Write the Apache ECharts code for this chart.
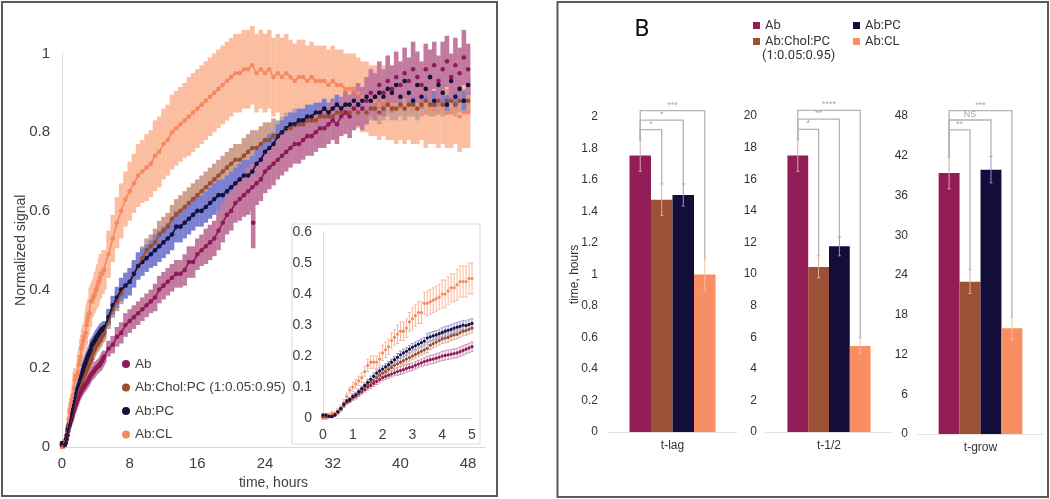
<!DOCTYPE html>
<html><head><meta charset="utf-8">
<script src="https://cdn.jsdelivr.net/npm/echarts@6/dist/echarts.min.js"></script>
<style>html,body{margin:0;padding:0;background:#fff}#c{width:1050px;height:499px}</style>
</head><body><div id="c"></div>
<script>
// ---------- data ----------
const seriesNames = ['Ab', 'Ab:Chol:PC (1:0.05:0.95)', 'Ab:PC', 'Ab:CL'];

// main panel: time (h)
const time = [0,0.5,1,1.5,2,2.5,3,3.5,4,4.5,5,5.5,6,6.5,7,7.5,8,8.5,9,9.5,10,10.5,11,11.5,12,12.5,13,13.5,14,14.5,15,15.5,16,16.5,17,17.5,18,18.5,19,19.5,20,20.5,21,21.5,22,22.5,23,23.5,24,24.5,25,25.5,26,26.5,27,27.5,28,28.5,29,29.5,30,30.5,31,31.5,32,32.5,33,33.5,34,34.5,35,35.5,36,36.5,37,37.5,38,38.5,39,39.5,40,40.5,41,41.5,42,42.5,43,43.5,44,44.5,45,45.5,46,46.5,47,47.5,48];

const abSignal = [0.00,0.01,0.07,0.10,0.13,0.15,0.17,0.19,0.20,0.22,
  0.23,0.25,0.26,0.28,0.29,0.31,0.32,0.33,0.34,0.35,
  0.36,0.37,0.38,0.40,0.41,0.42,0.43,0.44,0.44,0.45,
  0.47,0.47,0.49,0.50,0.51,0.52,0.53,0.55,0.57,0.59,
  0.60,0.62,0.63,0.64,0.65,0.66,0.67,0.68,0.70,0.71,
  0.72,0.73,0.74,0.75,0.76,0.77,0.77,0.78,0.79,0.79,
  0.80,0.81,0.81,0.82,0.83,0.82,0.84,0.85,0.84,0.86,
  0.87,0.86,0.88,0.90,0.89,0.92,0.90,0.93,0.91,0.94,
  0.92,0.95,0.93,0.96,0.94,0.92,0.96,0.94,0.97,0.93,
  0.96,0.98,0.94,0.97,0.95,0.99,0.96];
const abErr = [0.005,0.005,0.01,0.015,0.02,0.02,0.02,0.025,0.025,0.025,
  0.018,0.02,0.022,0.025,0.027,0.03,0.03,0.03,0.03,0.03,
  0.03,0.03,0.035,0.035,0.035,0.035,0.035,0.035,0.035,0.04,
  0.04,0.04,0.04,0.04,0.045,0.045,0.045,0.05,0.05,0.05,
  0.05,0.05,0.055,0.055,0.06,0.06,0.055,0.055,0.055,0.055,
  0.055,0.05,0.05,0.05,0.05,0.05,0.05,0.05,0.05,0.05,
  0.05,0.05,0.05,0.05,0.05,0.05,0.05,0.055,0.055,0.055,
  0.055,0.055,0.06,0.06,0.06,0.06,0.06,0.065,0.06,0.065,
  0.06,0.065,0.06,0.07,0.065,0.06,0.065,0.07,0.06,0.065,
  0.07,0.065,0.06,0.07,0.065,0.07,0.065];
// isolated Ab reading near 22.6 h: [time, value, error]
const abOutliers = [[22.6, 0.57, 0.065]];

const cholSignal = [0.00,0.01,0.06,0.10,0.14,0.17,0.20,0.23,0.26,0.28,
  0.29,0.32,0.35,0.37,0.39,0.41,0.42,0.44,0.46,0.48,
  0.50,0.51,0.52,0.54,0.55,0.56,0.58,0.59,0.60,0.61,
  0.62,0.63,0.64,0.65,0.66,0.67,0.68,0.69,0.70,0.71,
  0.72,0.73,0.73,0.74,0.75,0.76,0.76,0.77,0.78,0.78,
  0.79,0.79,0.80,0.81,0.81,0.82,0.82,0.82,0.83,0.83,
  0.83,0.84,0.84,0.84,0.84,0.85,0.85,0.85,0.85,0.86,
  0.85,0.86,0.85,0.86,0.86,0.85,0.86,0.87,0.86,0.86,
  0.87,0.86,0.87,0.87,0.86,0.87,0.88,0.87,0.87,0.88,
  0.87,0.88,0.88,0.87,0.88,0.88,0.88];
const cholErr = [0.005,0.005,0.01,0.015,0.02,0.02,0.025,0.025,0.025,0.025,
  0.018,0.02,0.022,0.025,0.027,0.03,0.03,0.03,0.03,0.03,
  0.03,0.03,0.035,0.035,0.035,0.035,0.035,0.04,0.04,0.04,
  0.04,0.04,0.04,0.04,0.04,0.04,0.04,0.04,0.04,0.04,
  0.04,0.04,0.04,0.045,0.045,0.045,0.045,0.045,0.045,0.045,
  0.045,0.04,0.04,0.04,0.04,0.04,0.035,0.035,0.035,0.035,
  0.035,0.035,0.035,0.03,0.03,0.03,0.03,0.03,0.03,0.03,
  0.03,0.03,0.03,0.03,0.03,0.03,0.03,0.03,0.03,0.03,
  0.03,0.03,0.03,0.03,0.03,0.03,0.03,0.03,0.03,0.03,
  0.03,0.03,0.03,0.03,0.03,0.03,0.03];

const pcSignal = [0.00,0.01,0.07,0.115,0.16,0.20,0.23,0.26,0.28,0.29,
  0.31,0.33,0.36,0.38,0.40,0.41,0.42,0.44,0.46,0.47,
  0.48,0.49,0.50,0.51,0.52,0.53,0.54,0.56,0.56,0.57,
  0.58,0.59,0.60,0.60,0.61,0.62,0.63,0.64,0.64,0.65,
  0.66,0.67,0.68,0.69,0.69,0.70,0.72,0.73,0.75,0.76,
  0.77,0.79,0.80,0.81,0.82,0.82,0.83,0.83,0.84,0.84,
  0.85,0.85,0.86,0.85,0.86,0.87,0.86,0.87,0.87,0.88,
  0.87,0.88,0.89,0.88,0.89,0.90,0.89,0.91,0.90,0.92,
  0.89,0.93,0.90,0.88,0.92,0.89,0.91,0.94,0.88,0.92,
  0.90,0.87,0.93,0.89,0.91,0.88,0.92];
const pcErr = [0.005,0.005,0.01,0.015,0.02,0.025,0.025,0.03,0.03,0.03,
  0.018,0.021,0.024,0.027,0.03,0.033,0.035,0.035,0.035,0.035,
  0.035,0.035,0.04,0.04,0.04,0.04,0.04,0.04,0.04,0.04,
  0.04,0.04,0.04,0.04,0.04,0.04,0.04,0.04,0.04,0.04,
  0.04,0.04,0.04,0.04,0.04,0.04,0.035,0.035,0.035,0.035,
  0.03,0.03,0.03,0.03,0.03,0.03,0.03,0.03,0.03,0.03,
  0.025,0.025,0.025,0.025,0.025,0.025,0.025,0.025,0.025,0.025,
  0.025,0.025,0.025,0.025,0.025,0.025,0.025,0.025,0.025,0.025,
  0.025,0.025,0.025,0.025,0.025,0.025,0.025,0.025,0.025,0.025,
  0.025,0.025,0.025,0.025,0.025,0.025,0.025];

const clSignal = [0.00,0.02,0.10,0.17,0.21,0.27,0.32,0.37,0.40,0.43,
  0.45,0.49,0.53,0.57,0.60,0.63,0.65,0.67,0.69,0.70,
  0.71,0.72,0.74,0.75,0.77,0.78,0.80,0.81,0.82,0.83,
  0.84,0.85,0.86,0.87,0.88,0.89,0.90,0.91,0.92,0.93,
  0.94,0.95,0.95,0.96,0.96,0.97,0.95,0.96,0.95,0.96,
  0.94,0.95,0.94,0.95,0.94,0.93,0.94,0.94,0.93,0.94,
  0.93,0.93,0.93,0.92,0.93,0.92,0.92,0.91,0.91,0.91,
  0.90,0.89,0.89,0.88,0.88,0.87,0.88,0.87,0.87,0.86,
  0.87,0.86,0.87,0.86,0.86,0.87,0.85,0.86,0.86,0.85,
  0.86,0.85,0.85,0.86,0.84,0.85,0.85];
const clErr = [0.005,0.01,0.02,0.025,0.03,0.035,0.04,0.045,0.05,0.05,
  0.055,0.06,0.06,0.065,0.07,0.07,0.075,0.075,0.08,0.08,
  0.085,0.085,0.09,0.09,0.09,0.09,0.095,0.095,0.095,0.095,
  0.1,0.1,0.1,0.1,0.1,0.1,0.1,0.1,0.1,0.1,
  0.1,0.1,0.1,0.1,0.1,0.1,0.1,0.1,0.1,0.1,
  0.1,0.1,0.1,0.1,0.095,0.095,0.095,0.095,0.09,0.09,
  0.09,0.09,0.09,0.09,0.09,0.09,0.09,0.09,0.09,0.09,
  0.09,0.09,0.09,0.09,0.09,0.09,0.09,0.09,0.09,0.09,
  0.09,0.09,0.09,0.09,0.09,0.09,0.09,0.09,0.09,0.09,
  0.09,0.09,0.09,0.09,0.09,0.09,0.09];

// inset: first 5 hours
const insetTime = [0,0.1,0.2,0.3,0.4,0.5,0.6,0.7,0.8,0.9,1.0,1.1,1.2,1.3,1.4,1.5,1.6,1.7,1.8,1.9,2.0,2.1,2.2,2.3,2.4,2.5,2.6,2.7,2.8,2.9,3.0,3.1,3.2,3.3,3.4,3.5,3.6,3.7,3.8,3.9,4.0,4.1,4.2,4.3,4.4,4.5,4.6,4.7,4.8,4.9,5.0];
const insetAb = [0.005,0.005,0.005,0.005,0.01,0.02,0.03,0.04,0.05,0.055,
  0.065,0.07,0.078,0.085,0.092,0.10,0.105,0.112,0.118,0.124,
  0.13,0.134,0.138,0.142,0.146,0.15,0.153,0.156,0.16,0.163,
  0.165,0.17,0.174,0.178,0.182,0.185,0.188,0.19,0.193,0.196,
  0.20,0.202,0.204,0.206,0.208,0.21,0.214,0.218,0.222,0.226,0.23];
const insetChol = [0.005,0.005,0.005,0.005,0.01,0.02,0.03,0.04,0.05,0.06,
  0.065,0.07,0.08,0.09,0.10,0.108,0.115,0.12,0.13,0.138,
  0.145,0.15,0.157,0.163,0.17,0.175,0.18,0.185,0.19,0.195,
  0.20,0.205,0.21,0.215,0.22,0.225,0.235,0.24,0.245,0.25,
  0.255,0.258,0.26,0.265,0.268,0.27,0.275,0.28,0.282,0.286,0.29];
const insetPC = [0.01,0.01,0.005,0.005,0.01,0.02,0.03,0.045,0.055,0.06,
  0.07,0.075,0.085,0.095,0.105,0.115,0.125,0.135,0.145,0.152,
  0.158,0.165,0.172,0.18,0.188,0.196,0.204,0.21,0.215,0.222,
  0.228,0.233,0.238,0.243,0.248,0.258,0.262,0.265,0.268,0.272,
  0.276,0.28,0.283,0.286,0.29,0.293,0.296,0.30,0.298,0.302,0.305];
const insetCL = [0,0,0.01,0.015,0.015,0.02,0.03,0.05,0.07,0.09,
  0.10,0.11,0.12,0.13,0.15,0.17,0.18,0.18,0.18,0.19,
  0.21,0.22,0.23,0.25,0.26,0.27,0.28,0.28,0.29,0.31,
  0.32,0.33,0.34,0.34,0.37,0.37,0.375,0.38,0.385,0.39,
  0.40,0.40,0.41,0.42,0.42,0.43,0.44,0.44,0.44,0.45,0.45];
const insetSmallErr = [0.003,0.003,0.003,0.003,0.003,0.005,0.005,0.005,0.005,0.005,
  0.008,0.008,0.008,0.008,0.008,0.01,0.01,0.01,0.01,0.01,
  0.01,0.01,0.01,0.01,0.01,0.012,0.012,0.012,0.012,0.012,
  0.012,0.012,0.012,0.012,0.012,0.014,0.014,0.014,0.014,0.014,
  0.015,0.015,0.015,0.015,0.015,0.015,0.015,0.015,0.015,0.015,0.015];
const insetCLErr = [0.005,0.005,0.005,0.005,0.005,0.01,0.01,0.01,0.01,0.01,
  0.015,0.015,0.015,0.015,0.015,0.02,0.02,0.02,0.02,0.02,
  0.025,0.025,0.025,0.025,0.025,0.03,0.03,0.03,0.03,0.03,
  0.035,0.035,0.035,0.035,0.035,0.04,0.04,0.04,0.04,0.04,
  0.045,0.045,0.045,0.045,0.045,0.05,0.05,0.05,0.05,0.05,0.05];

// panel B
const tLagMean = [1.755, 1.475, 1.505, 1.00];
const tLagErr  = [0.10, 0.10, 0.07, 0.10];
const tHalfMean = [17.5, 10.45, 11.75, 5.45];
const tHalfErr  = [1.0, 0.7, 0.6, 0.5];
const tGrowMean = [39.4, 23.0, 39.9, 15.95];
const tGrowErr  = [2.4, 1.8, 2.0, 1.7];
const sigTargets = [1, 2, 3];
const tLagSigLevels = [1.92, 1.98, 2.04];
const tLagSigLabels = ['*', '*', '***'];
const tHalfSigLevels = [19.15, 19.8, 20.35];
const tHalfSigLabels = ['*', '**', '****'];
const tGrowSigLevels = [45.9, 47.4, 48.8];
const tGrowSigLabels = ['**', 'NS', '***'];

// ---------- styles ----------
const markerColors = ['#8e1a59', '#9b4f30', '#15123f', '#f58a62'];
const bandColors = ['#c27a9f', '#cfa08f', '#7b80d2', '#fbbea0'];
const barColors = ['#931e57', '#9c5137', '#130d39', '#fa8e63'];
const barErrColors = ['#d3a7bd', '#d9ae9c', '#8f92d6', '#f7bfa3'];
const insetErrColors = ['#c890ac', '#d6aa96', '#9597d4', '#f8b899'];
const fontL = '"Liberation Sans", Arial, sans-serif';
const fontR = 'Roboto, "Liberation Sans", sans-serif';

const zip = (xs, ys, es) => xs.map((x, i) => es ? [x, ys[i], es[i]] : [x, ys[i]]);

function errRender(color, width, capHalf) {
  return function (params, api) {
    const t = api.value(0), v = api.value(1), e = api.value(2);
    const p1 = api.coord([t, v - e]), p2 = api.coord([t, v + e]);
    const ch = [{ type: 'line', shape: { x1: p1[0], y1: p1[1], x2: p2[0], y2: p2[1] }, style: { stroke: color, lineWidth: width } }];
    if (capHalf) {
      ch.push({ type: 'line', shape: { x1: p1[0] - capHalf, y1: p1[1], x2: p1[0] + capHalf, y2: p1[1] }, style: { stroke: color, lineWidth: 1 } });
      ch.push({ type: 'line', shape: { x1: p2[0] - capHalf, y1: p2[1], x2: p2[0] + capHalf, y2: p2[1] }, style: { stroke: color, lineWidth: 1 } });
    }
    return { type: 'group', children: ch };
  };
}

const series = [];
const mainData = [
  { sig: abSignal, err: abErr },
  { sig: cholSignal, err: cholErr },
  { sig: pcSignal, err: pcErr },
  { sig: clSignal, err: clErr }
];
const insetData = [
  { sig: insetAb, err: insetSmallErr },
  { sig: insetChol, err: insetSmallErr },
  { sig: insetPC, err: insetSmallErr },
  { sig: insetCL, err: insetCLErr }
];
// main panel uses the fine early-time readings for t <= 5 h, then the 0.5 h readings
function mainPoints(i, withErr) {
  const early = zip(insetTime, insetData[i].sig, withErr ? insetData[i].err : null);
  const late = zip(time, mainData[i].sig, withErr ? mainData[i].err : null).filter(p => p[0] > 5);
  return early.concat(late);
}
const bandOrder = [3, 1, 2, 0];
bandOrder.forEach(i => {
  series.push({
    type: 'custom', name: 'band ' + i, xAxisIndex: 0, yAxisIndex: 0, silent: true,
    data: mainPoints(i, true).concat(i === 0 ? abOutliers : []), encode: { x: 0, y: 1 },
    renderItem: errRender(bandColors[i], 4.6, 0)
  });
});
const markerOrder = [3, 1, 0, 2];
markerOrder.forEach(i => {
  series.push({
    type: 'line', name: seriesNames[i] + ' trace', xAxisIndex: 0, yAxisIndex: 0, silent: true,
    showSymbol: false, lineStyle: { color: markerColors[i], width: 1.6 },
    data: mainPoints(i, false).filter(p => p[0] <= 34)
  });
  series.push({
    type: 'scatter', name: seriesNames[i], xAxisIndex: 0, yAxisIndex: 0, clip: false, silent: true,
    symbolSize: 4.6, itemStyle: { color: markerColors[i], opacity: 1 },
    data: mainPoints(i, false).concat(i === 0 ? abOutliers.map(p => [p[0], p[1]]) : [])
  });
});
[3, 0, 1, 2].forEach(i => {
  series.push({
    type: 'custom', name: 'inset err ' + i, xAxisIndex: 1, yAxisIndex: 1, silent: true,
    data: zip(insetTime, insetData[i].sig, insetData[i].err), encode: { x: 0, y: 1 },
    renderItem: errRender(insetErrColors[i], 1, 1.5)
  });
});
[3, 0, 1, 2].forEach(i => {
  series.push({
    type: 'scatter', name: seriesNames[i], xAxisIndex: 1, yAxisIndex: 1, silent: true,
    symbolSize: 3.2, itemStyle: { color: markerColors[i], opacity: 1 },
    data: zip(insetTime, insetData[i].sig)
  });
});

const barPanels = [
  { cat: 't-lag', mean: tLagMean, err: tLagErr, levels: tLagSigLevels, labels: tLagSigLabels, gap: 0.333 },
  { cat: 't-1/2', mean: tHalfMean, err: tHalfErr, levels: tHalfSigLevels, labels: tHalfSigLabels, gap: 0.34 },
  { cat: 't-grow', mean: tGrowMean, err: tGrowErr, levels: tGrowSigLevels, labels: tGrowSigLabels, gap: 0.33 }
];
barPanels.forEach((p, k) => {
  const ax = k + 2;
  const barX = (api, i) => {
    const band = api.size([1, 0])[0];
    const bw = band * (1 - p.gap) / 4;
    return api.coord([0, 0])[0] + (i - 1.5) * bw;
  };
  seriesNames.forEach((nm, i) => {
    series.push({
      type: 'bar', name: nm, xAxisIndex: ax, yAxisIndex: ax, silent: true,
      data: [p.mean[i]], barGap: '0%', barCategoryGap: (p.gap * 100) + '%',
      itemStyle: { color: barColors[i] }
    });
  });
  series.push({
    type: 'custom', name: 'bar err ' + k, xAxisIndex: ax, yAxisIndex: ax, silent: true, z: 4,
    data: p.mean.map((m, i) => [0, m, p.err[i], i]),
    renderItem: function (params, api) {
      const m = api.value(1), e = api.value(2), i = api.value(3);
      const x = barX(api, i);
      const yt = api.coord([0, m + e])[1], yb = api.coord([0, m - e])[1];
      const c = barErrColors[i];
      return { type: 'group', children: [
        { type: 'line', shape: { x1: x, y1: yt, x2: x, y2: yb }, style: { stroke: c, lineWidth: 1 } },
        { type: 'line', shape: { x1: x - 1.5, y1: yt, x2: x + 1.5, y2: yt }, style: { stroke: c, lineWidth: 1 } },
        { type: 'line', shape: { x1: x - 1.5, y1: yb, x2: x + 1.5, y2: yb }, style: { stroke: c, lineWidth: 1 } }
      ] };
    }
  });
  series.push({
    type: 'custom', name: 'sig ' + k, xAxisIndex: ax, yAxisIndex: ax, silent: true, z: 5,
    data: p.levels.map((L, j) => [0, L, sigTargets[j], j]),
    renderItem: function (params, api) {
      const L = api.value(1), tg = api.value(2), j = api.value(3);
      const x0 = barX(api, 0), x1 = barX(api, tg);
      const yL = api.coord([0, L])[1];
      const y0 = api.coord([0, p.mean[0] + p.err[0]])[1];
      const y1 = api.coord([0, p.mean[tg] + p.err[tg]])[1];
      return { type: 'group', children: [
        { type: 'polyline', shape: { points: [[x0, y0], [x0, yL], [x1, yL], [x1, y1]] }, style: { stroke: '#b3b3b3', lineWidth: 1.3, fill: null } },
        { type: 'text', x: (x0 + x1) / 2, y: yL - 1, style: { text: p.labels[j], fill: '#a6a6a6', font: '9px ' + fontL, align: 'center', verticalAlign: 'bottom' } }
      ] };
    }
  });
});

const axisLabelL = { color: '#404040', fontFamily: fontL, fontSize: 15 };
const option = {
  animation: false,
  backgroundColor: '#fff',
  grid: [
    { left: 62, top: 53.5, width: 423, height: 393.5 },
    { left: 323, top: 232, width: 149, height: 186 },
    { left: 608, top: 117, width: 129, height: 315 },
    { left: 766, top: 116, width: 126, height: 316 },
    { left: 918, top: 116, width: 125, height: 318 }
  ],
  xAxis: [
    { type: 'value', gridIndex: 0, min: 0, max: 50, interval: 8, splitLine: { show: false },
      axisLine: { show: true, lineStyle: { color: '#d9d9d9' } }, axisTick: { show: false },
      axisLabel: Object.assign({ margin: 9, showMaxLabel: false }, axisLabelL),
      name: 'time, hours', nameLocation: 'middle', nameGap: 29,
      nameTextStyle: { color: '#404040', fontFamily: fontL, fontSize: 14 } },
    { type: 'value', gridIndex: 1, min: 0, max: 5, interval: 1, splitLine: { show: false },
      axisLine: { show: true, lineStyle: { color: '#d9d9d9' } }, axisTick: { show: false },
      axisLabel: { color: '#404040', fontFamily: fontL, fontSize: 14, margin: 10 } }
  ].concat(barPanels.map((p, k) => ({
    type: 'category', gridIndex: k + 2, data: [p.cat],
    axisLine: { show: true, lineStyle: { color: '#e3e3e3' } }, axisTick: { show: false },
    axisLabel: { color: '#333', fontFamily: fontL, fontSize: 12, margin: 8 }
  }))),
  yAxis: [
    { type: 'value', gridIndex: 0, min: 0, max: 1, interval: 0.2, splitLine: { show: false },
      axisLine: { show: true, lineStyle: { color: '#d9d9d9' } }, axisTick: { show: false },
      axisLabel: Object.assign({ margin: 12 }, axisLabelL),
      name: 'Normalized signal', nameLocation: 'middle', nameGap: 34, nameMoveOverlap: false,
      nameTextStyle: { color: '#404040', fontFamily: fontL, fontSize: 14 } },
    { type: 'value', gridIndex: 1, min: 0, max: 0.6, interval: 0.1, splitLine: { show: false },
      axisLine: { show: true, lineStyle: { color: '#d9d9d9' } }, axisTick: { show: false },
      axisLabel: { color: '#404040', fontFamily: fontL, fontSize: 14, margin: 11 } },
    { type: 'value', gridIndex: 2, min: 0, max: 2, interval: 0.2, splitLine: { show: false },
      axisLine: { show: false }, axisTick: { show: false },
      axisLabel: { color: '#333', fontFamily: fontL, fontSize: 12, margin: 10 },
      name: 'time, hours', nameLocation: 'middle', nameGap: 27, nameMoveOverlap: false,
      nameTextStyle: { color: '#333', fontFamily: fontL, fontSize: 12 } },
    { type: 'value', gridIndex: 3, min: 0, max: 20, interval: 2, splitLine: { show: false },
      axisLine: { show: false }, axisTick: { show: false },
      axisLabel: { color: '#333', fontFamily: fontL, fontSize: 12, margin: 9 } },
    { type: 'value', gridIndex: 4, min: 0, max: 48, interval: 6, splitLine: { show: false },
      axisLine: { show: false }, axisTick: { show: false },
      axisLabel: { color: '#333', fontFamily: fontL, fontSize: 12, margin: 10 } }
  ],
  legend: [
    { orient: 'vertical', left: 117, top: 352, itemWidth: 8, itemHeight: 8, itemGap: 9.5, selectedMode: false,
      textStyle: { color: '#404040', fontFamily: fontL, fontSize: 13.5 },
      data: seriesNames.map((n, i) => ({ name: n, icon: 'circle', itemStyle: { color: markerColors[i] } })) },
    { orient: 'vertical', left: 748, top: 14, itemWidth: 7, itemHeight: 7, itemGap: 3, selectedMode: false,
      textStyle: { color: '#333', fontFamily: fontR, fontSize: 13 },
      formatter: n => n.split(' (')[0],
      data: [0, 1].map(i => ({ name: seriesNames[i], icon: 'rect', itemStyle: { color: barColors[i] } })) },
    { orient: 'vertical', left: 848, top: 14, itemWidth: 7, itemHeight: 7, itemGap: 3, selectedMode: false,
      textStyle: { color: '#333', fontFamily: fontR, fontSize: 13 },
      data: [2, 3].map(i => ({ name: seriesNames[i], icon: 'rect', itemStyle: { color: barColors[i] } })) }
  ],
  graphic: [
    { type: 'rect', z: -10, shape: { x: 2, y: 2, width: 495, height: 494 }, style: { fill: null, stroke: '#5a5a5a', lineWidth: 2 } },
    { type: 'rect', z: -10, shape: { x: 557.5, y: 2, width: 490.5, height: 495 }, style: { fill: null, stroke: '#5a5a5a', lineWidth: 2 } },
    { type: 'rect', z: -5, shape: { x: 292, y: 224, width: 188, height: 220 }, style: { fill: '#fff', stroke: '#dadada', lineWidth: 1 } },
    { type: 'text', x: 642, y: 30, style: { text: 'B', font: '24px ' + fontR, fill: '#111', align: 'center', verticalAlign: 'middle' } },
    { type: 'text', x: 762, y: 56, style: { text: '(1:0.05:0.95)', font: '13px ' + fontR, fill: '#333', align: 'left', verticalAlign: 'middle' } }
  ],
  series: series
};
const chart = echarts.init(document.getElementById('c'), null, { renderer: 'canvas' });
chart.setOption(option);
</script>
</body></html>
